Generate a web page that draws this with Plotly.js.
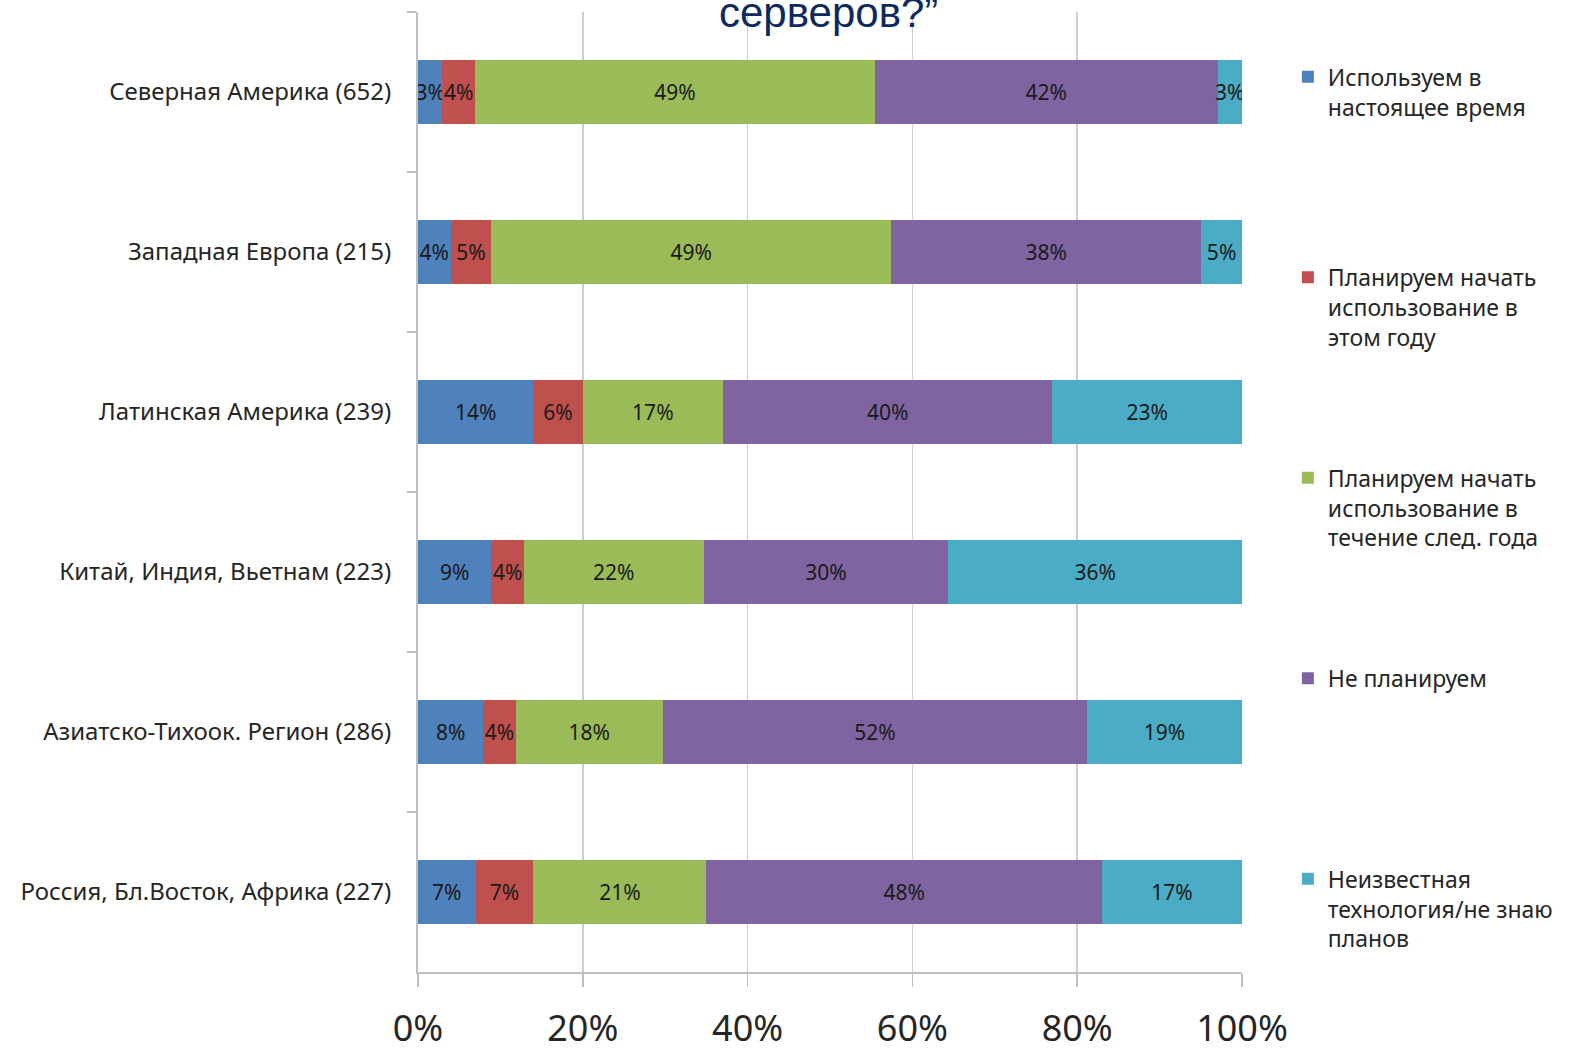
<!DOCTYPE html>
<html>
<head>
<meta charset="utf-8">
<script src="https://cdn.plot.ly/plotly-3.0.1.min.js"></script>
<style>html,body{margin:0;padding:0;background:#fff;}#chart{width:1570px;height:1051px;}</style>
</head>
<body>
<div id="chart"></div>
<script>
const regions = [
  "Северная Америка (652)",
  "Западная Европа (215)",
  "Латинская Америка (239)",
  "Китай, Индия, Вьетнам (223)",
  "Азиатско-Тихоок. Регион (286)",
  "Россия, Бл.Восток, Африка (227)"
];
const seriesNames = [
  "Используем в<br>настоящее время",
  "Планируем начать<br>использование в<br>этом году",
  "Планируем начать<br>использование в<br>течение след. года",
  "Не планируем",
  "Неизвестная<br>технология/не знаю<br>планов"
];
const usingNow      = [3, 4, 14, 9, 8, 7];
const planThisYear  = [4, 5, 6, 4, 4, 7];
const planNextYear  = [49, 49, 17, 22, 18, 21];
const notPlanning   = [42, 38, 40, 30, 52, 48];
const unknown       = [3, 5, 23, 36, 19, 17];
const xTickVals = [0, 20, 40, 60, 80, 100];
const xTickText = ["0%", "20%", "40%", "60%", "80%", "100%"];
const titleTail = "серверов?”";

const seriesValues = [usingNow, planThisYear, planNextYear, notPlanning, unknown];
const colors = ["#4F81BD", "#C0504D", "#9BBB59", "#8064A2", "#4BACC6"];
const font = "Noto Sans, Open Sans, sans-serif";

// pad legend labels to equal line counts so items are evenly spaced
function padLines(s, n) {
  const c = s.split("<br>").length;
  let out = s;
  for (let i = c; i < n; i++) out += "<br>&nbsp;";
  return out;
}

const traces = seriesValues.map((vals, i) => ({
  type: "bar",
  orientation: "h",
  y: regions,
  x: vals,
  name: padLines(seriesNames[i], 5),
  legendgroup: "g" + i,
  marker: {color: colors[i], line: {width: 0}},
  text: vals.map(v => v + "%"),
  textposition: "inside",
  insidetextanchor: "middle",
  textangle: 0,
  constraintext: "none",
  textfont: {family: font, size: 21, color: "#1a1a1a"},
  hoverinfo: "skip"
}));

const layout = {
  width: 1570,
  height: 1051,
  barmode: "stack",
  barnorm: "percent",
  bargap: 0.6,
  paper_bgcolor: "#ffffff",
  plot_bgcolor: "#ffffff",
  margin: {l: 418, r: 328, t: 12, b: 79, autoexpand: false},
  font: {family: font, color: "#262626"},
  uniformtext: {mode: "show", minsize: 21},
  xaxis: {
    range: [0, 100],
    tickvals: xTickVals,
    ticktext: xTickText,
    showgrid: true,
    gridcolor: "#cfcfcf",
    gridwidth: 1.5,
    zeroline: false,
    showline: true,
    linecolor: "#bfbfbf",
    linewidth: 2,
    ticks: "outside",
    ticklen: 13,
    tickcolor: "#bfbfbf",
    tickwidth: 1.5,
    tickfont: {family: font, size: 36, color: "#262626"},
    ticklabelstandoff: 11,
    fixedrange: true
  },
  yaxis: {
    autorange: "reversed",
    type: "category",
    showgrid: false,
    showline: true,
    linecolor: "#bfbfbf",
    linewidth: 2,
    ticks: "outside",
    tickson: "boundaries",
    ticklen: 9,
    tickcolor: "#bfbfbf",
    tickwidth: 1.5,
    tickfont: {family: font, size: 24, color: "#262626"},
    ticklabelstandoff: 20,
    fixedrange: true
  },
  legend: {
    xref: "container",
    x: 0.8203,
    xanchor: "left",
    y: 0.955,
    yanchor: "top",
    traceorder: "grouped",
    tracegroupgap: 48,
    valign: "top",
    itemwidth: 30,
    font: {family: font, size: 23, color: "#262626"},
    bgcolor: "rgba(0,0,0,0)"
  },
  showlegend: true,
  annotations: [{
    xref: "paper", yref: "paper",
    x: 0.4976, y: 1,
    xanchor: "center", yanchor: "middle",
    yshift: 0,
    text: titleTail,
    showarrow: false,
    font: {family: "Liberation Sans, Arial, sans-serif", size: 42, color: "#0e2a5c"}
  }]
};

Plotly.newPlot("chart", traces, layout, {displayModeBar: false, staticPlot: true});
</script>
</body>
</html>
